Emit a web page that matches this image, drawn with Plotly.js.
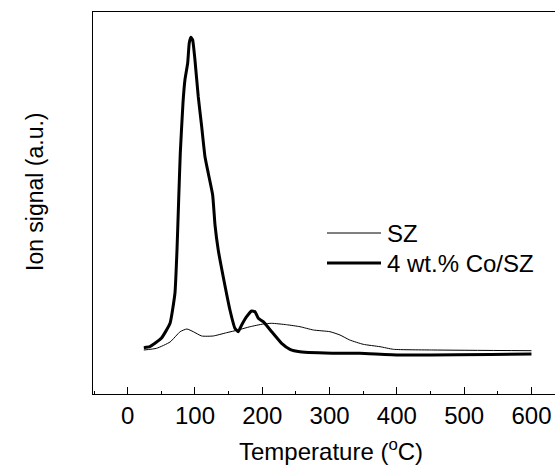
<!DOCTYPE html>
<html>
<head>
<meta charset="utf-8">
<script src="https://cdn.plot.ly/plotly-3.0.1.min.js"></script>
<style>html,body{margin:0;padding:0;background:#fff;}#chart{width:555px;height:468px;}</style>
</head>
<body>
<div id="chart"></div>
<script>
// Temperature (°C) and ion signal (a.u.)
const szTemp = [24, 43, 63, 78, 88, 97.5, 110, 127, 147, 164, 182, 201.5, 214, 236, 256, 276, 300.6, 315.5, 330, 350, 375, 395, 454, 600];
const szSignal = [44, 45.7, 52, 62.3, 65, 62.3, 58, 58, 61.3, 64, 67.3, 70, 70.7, 69.3, 67.3, 64, 62.3, 59, 54, 49.7, 47.3, 44.7, 44, 43.3];

const coTemp = [24, 33, 50, 63, 70.3, 73.3, 75.8, 78.2, 82.2, 85.1, 89.2, 91.5, 94.1, 96.6, 100, 104.9, 110, 114.9, 119.8, 126.3, 129.8, 134.6, 142, 152, 159.4, 164.3, 169.4, 176.8, 184.2, 189.2, 194.1, 201.5, 214, 228.8, 241.2, 256, 315.5, 345, 404.6, 600];
const coSignal = [46.3, 47.3, 55.7, 70.7, 101, 144, 194, 241, 291, 314, 331, 351, 356.7, 354, 334, 297.3, 267.3, 237.3, 220.7, 199, 169, 144, 117.3, 84, 65.7, 62.3, 69, 77.3, 83, 82.3, 75.7, 72.3, 62.3, 50.7, 44.7, 42.3, 40.7, 40.7, 39, 40];

const seriesNames = ['SZ', '4 wt.% Co/SZ'];
const xTickVals = [0, 100, 200, 300, 400, 500, 600];
const xTitle = 'Temperature (<sup>o</sup>C)';
const yTitle = 'Ion signal (a.u.)';

const font = {family: 'Liberation Sans, Arial, sans-serif', size: 24, color: '#000'};
const yFont = {family: 'Liberation Sans, Arial, sans-serif', size: 23, color: '#000'};

const traces = [
  {x: szTemp, y: szSignal, mode: 'lines', name: seriesNames[0], line: {color: '#000', width: 1, shape: 'spline', smoothing: 0.5}, showlegend: false},
  {x: coTemp, y: coSignal, mode: 'lines', name: seriesNames[1], line: {color: '#000', width: 3, shape: 'spline', smoothing: 0.4}, showlegend: false}
];

// manual legend and titles (paper coordinates)
const plotL = 93, plotT = 12, plotW = 462, plotH = 382;
const px = v => (v - plotL) / plotW;
const py = v => (plotT + plotH - v) / plotH;

const shapes = [
  {type: 'line', xref: 'paper', yref: 'paper', x0: px(327), x1: px(381), y0: py(233), y1: py(233), line: {color: '#000', width: 1}},
  {type: 'line', xref: 'paper', yref: 'paper', x0: px(327), x1: px(381), y0: py(263), y1: py(263), line: {color: '#000', width: 3}}
];

const annotations = [
  {xref: 'paper', yref: 'paper', x: px(385), y: py(233), xanchor: 'left', yanchor: 'middle', text: seriesNames[0], showarrow: false, font: font},
  {xref: 'paper', yref: 'paper', x: px(385), y: py(263), xanchor: 'left', yanchor: 'middle', text: seriesNames[1], showarrow: false, font: font},
  {xref: 'paper', yref: 'paper', x: px(35), y: py(192), xanchor: 'center', yanchor: 'middle', text: yTitle, textangle: -90, showarrow: false, font: yFont},
  {xref: 'paper', yref: 'paper', x: px(331), y: py(450), xanchor: 'center', yanchor: 'middle', text: xTitle, showarrow: false, font: font}
];

const layout = {
  width: 555, height: 468,
  margin: {l: plotL, r: 0, t: plotT, b: 468 - plotT - plotH, pad: 0},
  paper_bgcolor: '#fff', plot_bgcolor: '#fff',
  font: font,
  showlegend: false,
  xaxis: {
    range: [-51.5, 635], showgrid: false, zeroline: false,
    showline: true, linecolor: '#000', linewidth: 1.2, mirror: true,
    ticks: 'inside', ticklen: 7, tickwidth: 1, tickcolor: '#000',
    tickvals: xTickVals, ticktext: xTickVals.map(String),
    minor: {ticks: 'inside', ticklen: 3.5, tickwidth: 1, tickcolor: '#000', dtick: 50, tick0: 0, showgrid: false},
    tickfont: font
  },
  yaxis: {
    range: [0, 382], showgrid: false, zeroline: false,
    showline: true, linecolor: '#000', linewidth: 1.2, mirror: false,
    ticks: '', showticklabels: false
  },
  shapes: shapes,
  annotations: annotations
};

Plotly.newPlot('chart', traces, layout, {displayModeBar: false, staticPlot: true});
</script>
</body>
</html>
